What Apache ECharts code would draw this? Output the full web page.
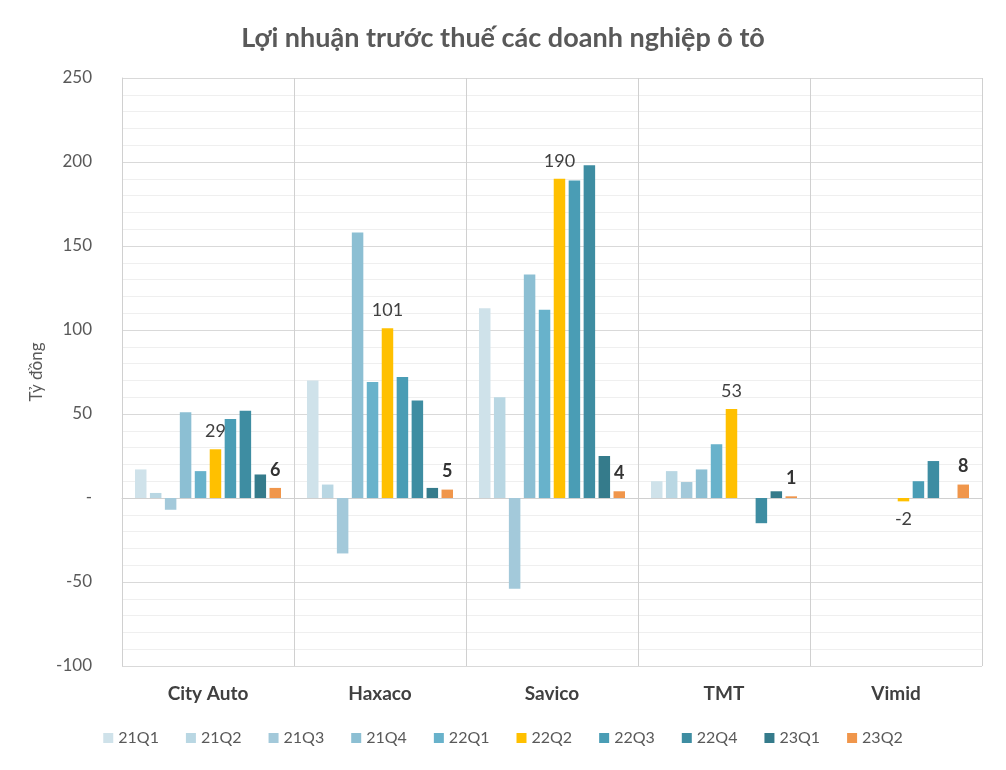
<!DOCTYPE html>
<html>
<head>
<meta charset="utf-8">
<script src="https://cdn.jsdelivr.net/npm/echarts@6/dist/echarts.min.js"></script>
<style>
html,body{margin:0;padding:0;background:#fff;}
#main{width:1006px;height:770px;}
</style>
</head>
<body>
<div id="main"></div>
<script>
const categories = ['City Auto', 'Haxaco', 'Savico', 'TMT', 'Vimid'];
const seriesNames = ['21Q1','21Q2','21Q3','21Q4','22Q1','22Q2','22Q3','22Q4','23Q1','23Q2'];
const s21Q1 = [17, 70, 113, 10, null];
const s21Q2 = [3, 8, 60, 16, null];
const s21Q3 = [-7, -33, -54, 9.5, null];
const s21Q4 = [51, 158, 133, 17, null];
const s22Q1 = [16, 69, 112, 32, null];
const s22Q2 = [29, 101, 190, 53, -2];
const s22Q3 = [47, 72, 189, null, 10];
const s22Q4 = [52, 58, 198, -15, 22];
const s23Q1 = [14, 6, 25, 4, null];
const s23Q2 = [6, 5, 4, 1, 8];
const yTicks = [-100, -50, 0, 50, 100, 150, 200, 250];

const allValues = [s21Q1, s21Q2, s21Q3, s21Q4, s22Q1, s22Q2, s22Q3, s22Q4, s23Q1, s23Q2];
const colors = ['#cfe2ea','#b9d7e3','#a3c9da','#8cbfd3','#68b2cb','#ffc000','#4a9db5','#3e8da2','#357b8b','#f0964b'];
const font = 'Lato, "Open Sans", sans-serif';

const series = seriesNames.map((name, i) => {
  const vals = allValues[i];
  const labelled = (name === '22Q2' || name === '23Q2');
  const bold = name === '23Q2';
  return {
    name: name,
    type: 'bar',
    barWidth: 11.5,
    barGap: '30%',
    itemStyle: { color: colors[i] },
    label: {
      show: labelled,
      position: 'top',
      distance: 9,
      fontFamily: font,
      fontSize: 18,
      fontWeight: bold ? 'bold' : 'normal',
      color: bold ? '#333333' : '#404040'
    },
    data: vals.map(v => {
      if (v === null) return null;
      if (labelled && v < 0) return { value: v, label: { position: 'bottom' } };
      return v;
    })
  };
});

const chart = echarts.init(document.getElementById('main'));
chart.setOption({
  animation: false,
  backgroundColor: '#ffffff',
  color: colors,
  title: {
    text: 'Lợi nhuận trước thuế các doanh nghiệp ô tô',
    left: 'center',
    top: 20,
    textStyle: { fontFamily: font, fontSize: 27, fontWeight: 'bold', color: '#595959' }
  },
  legend: {
    bottom: 19,
    left: 'center',
    itemWidth: 10,
    itemHeight: 10,
    itemGap: 27,
    icon: 'rect',
    textStyle: { fontFamily: font, fontSize: 16, color: '#595959' },
    data: seriesNames
  },
  grid: { left: 122, right: 24, top: 78, bottom: 104, containLabel: false },
  xAxis: {
    type: 'category',
    data: categories,
    axisLine: { show: true, lineStyle: { color: '#d0d0d0', width: 1 } },
    axisTick: { show: false },
    splitLine: { show: true, interval: 0, lineStyle: { color: '#d0d0d0', width: 1 } },
    axisLabel: { fontFamily: font, fontSize: 19, fontWeight: 'bold', color: '#404040', margin: 18 }
  },
  yAxis: {
    type: 'value',
    min: -100,
    max: 250,
    interval: 50,
    name: 'Tỷ đồng',
    nameLocation: 'middle',
    nameGap: 76,
    nameRotate: 90,
    nameTextStyle: { fontFamily: font, fontSize: 17, color: '#595959' },
    axisLine: { show: true, lineStyle: { color: '#d0d0d0' } },
    axisTick: { show: false },
    axisLabel: {
      fontFamily: font, fontSize: 17, color: '#595959', margin: 30,
      formatter: v => (yTicks.indexOf(v) >= 0 ? (v === 0 ? '-' : String(v)) : '')
    },
    splitLine: { show: true, lineStyle: { color: '#d9d9d9', width: 1 } },
    minorTick: { show: false, splitNumber: 5 },
    minorSplitLine: { show: true, lineStyle: { color: '#efefef', width: 1 } }
  },
  series: series
});
</script>
</body>
</html>
